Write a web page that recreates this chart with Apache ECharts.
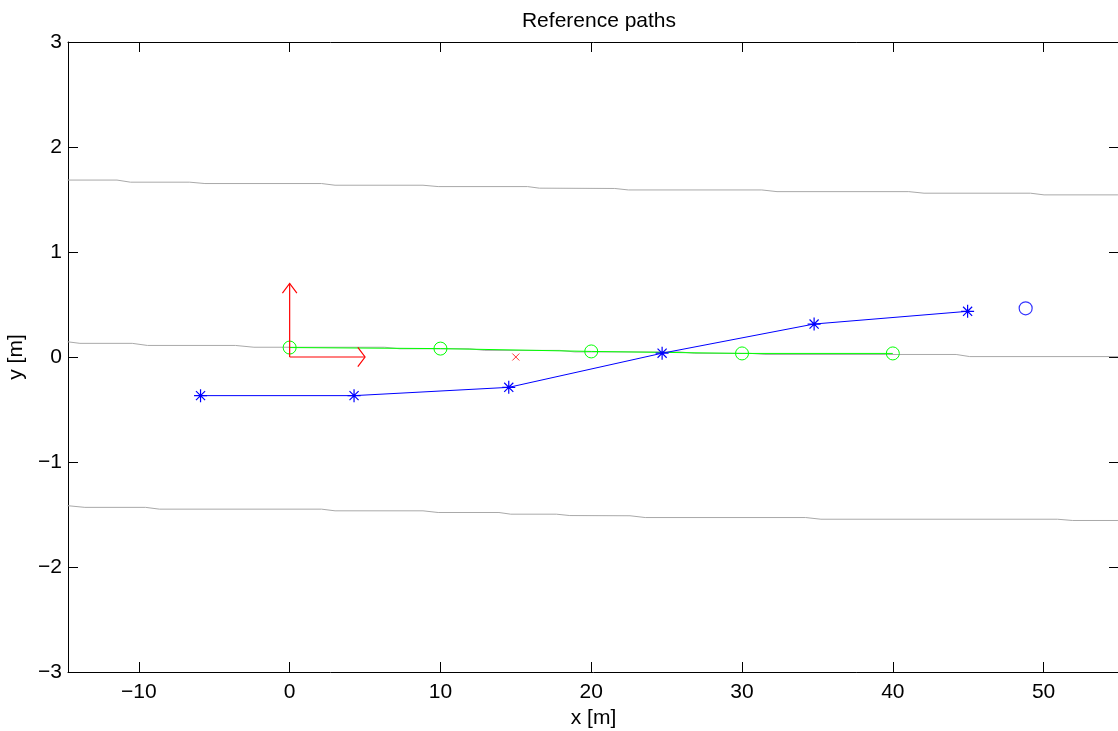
<!DOCTYPE html>
<html>
<head>
<meta charset="utf-8">
<title>Reference paths</title>
<script src="https://cdn.jsdelivr.net/npm/echarts@6/dist/echarts.min.js"></script>
<style>
  html, body { margin: 0; padding: 0; background: #ffffff; }
  #chart { width: 1118px; height: 731px; }
</style>
</head>
<body>
<div id="chart"></div>
<script>
// Tick values on each axis
const xTicks = [-10, 0, 10, 20, 30, 40, 50];
const yTicks = [-3, -2, -1, 0, 1, 2, 3];

// Lane boundary traces [x, y] in metres
const laneLeft = [
  [-14.73, 1.685], [-11.45, 1.685], [-10.56, 1.665], [-6.63, 1.665], [-5.62, 1.652],
  [2.11, 1.652], [3.01, 1.636], [8.84, 1.636], [9.85, 1.623], [15.78, 1.623],
  [16.56, 1.608], [21.56, 1.605], [22.46, 1.591], [31.31, 1.591], [32.32, 1.575],
  [41.06, 1.575], [42.07, 1.560], [49.13, 1.560], [50.03, 1.544], [54.93, 1.544]
];
const laneCenter = [
  [-14.73, 0.145], [-13.91, 0.130], [-10.44, 0.130], [-9.43, 0.110], [-3.60, 0.110],
  [-2.37, 0.093], [6.30, 0.093], [7.30, 0.078], [11.94, 0.078], [12.94, 0.063],
  [17.91, 0.063], [18.91, 0.048], [25.88, 0.048], [26.87, 0.035], [30.52, 0.035],
  [31.52, 0.024], [44.20, 0.024], [45.10, 0.004], [54.93, 0.004]
];
const laneRight = [
  [-14.73, -1.416], [-13.58, -1.432], [-9.55, -1.432], [-8.64, -1.449], [2.11, -1.449],
  [3.01, -1.465], [8.84, -1.465], [9.85, -1.481], [13.88, -1.481], [14.66, -1.497],
  [17.69, -1.497], [18.58, -1.510], [22.57, -1.512], [23.58, -1.529], [34.22, -1.529],
  [35.23, -1.545], [50.92, -1.545], [51.93, -1.557], [54.93, -1.557]
];

// Reference path samples (green circles)
const refPath = [[0, 0.090], [10, 0.080], [20, 0.053], [30, 0.034], [40, 0.034]];
// Vehicle path samples (blue asterisks)
const vehiclePath = [
  [-5.91, -0.368], [4.27, -0.368], [14.53, -0.289],
  [24.70, 0.036], [34.78, 0.314], [44.96, 0.435]
];
// Predicted next point (blue circle)
const nextPoint = [[48.81, 0.464]];
// Look-ahead target (red cross)
const targetPoint = [[15, 0]];
// Local frame axes: [x0, y0, dx, dy]
const frameArrows = [[0, 0, 0, 0.7], [0, 0, 5, 0]];

const FONT = 'Liberation Sans, Arial, Helvetica, sans-serif';
const FONT_SIZE = 21;
const minus = v => String(v).replace('-', '\u2212');
const starPath = 'path://M0,-6L0,6M-6,0L6,0M-4.2,-4.2L4.2,4.2M-4.2,4.2L4.2,-4.2';
const crossPath = 'path://M-3,-3L3,3M-3,3L3,-3';

const chart = echarts.init(document.getElementById('chart'), null, { renderer: 'canvas' });

const baseAxisLine = { show: true, onZero: false, lineStyle: { color: '#000000', width: 1 } };
const tickStyle = { show: true, inside: true, length: 10, lineStyle: { color: '#000000', width: 1 } };

function laneSeries(data) {
  return {
    type: 'line', data: data, showSymbol: false, symbol: 'none',
    lineStyle: { color: '#a9a9a9', width: 1 }, z: 1, animation: false, silent: true
  };
}

// Head size of frame arrows in data units along x and y
const HEAD_X = 0.48, HEAD_Y = 0.092;

chart.setOption({
  animation: false,
  backgroundColor: '#ffffff',
  title: {
    text: 'Reference paths', left: 594, textAlign: 'center', top: 6,
    textStyle: { fontFamily: FONT, fontSize: FONT_SIZE, fontWeight: 'normal', color: '#000000' }
  },
  grid: {
    left: 68, top: 42, width: 1051, height: 630, show: false,
    containLabel: false, outerBoundsMode: 'none'
  },
  xAxis: [
    {
      type: 'value', min: -14.7, max: 55, position: 'bottom',
      name: 'x [m]', nameLocation: 'middle', nameGap: 34,
      nameTextStyle: { fontFamily: FONT, fontSize: FONT_SIZE, color: '#000000' },
      axisLine: baseAxisLine,
      axisTick: Object.assign({ customValues: xTicks }, tickStyle),
      axisLabel: {
        customValues: xTicks, formatter: minus, margin: 10,
        fontFamily: FONT, fontSize: FONT_SIZE, color: '#000000'
      },
      splitLine: { show: false }
    },
    {
      type: 'value', min: -14.7, max: 55, position: 'top',
      axisLine: baseAxisLine,
      axisTick: Object.assign({ customValues: xTicks }, tickStyle),
      axisLabel: { show: false },
      splitLine: { show: false }
    }
  ],
  yAxis: [
    {
      type: 'value', min: -3, max: 3, interval: 1, position: 'left',
      name: 'y [m]', nameLocation: 'middle', nameGap: 36, nameRotate: 90,
      nameTextStyle: { fontFamily: FONT, fontSize: FONT_SIZE, color: '#000000' },
      axisLine: baseAxisLine,
      axisTick: Object.assign({ customValues: yTicks }, tickStyle),
      axisLabel: {
        customValues: yTicks, formatter: minus, margin: 6,
        fontFamily: FONT, fontSize: FONT_SIZE, color: '#000000'
      },
      splitLine: { show: false }
    },
    {
      type: 'value', min: -3, max: 3, interval: 1, position: 'right',
      axisLine: baseAxisLine,
      axisTick: Object.assign({ customValues: yTicks }, tickStyle),
      axisLabel: { show: false },
      splitLine: { show: false }
    }
  ],
  series: [
    laneSeries(laneLeft),
    laneSeries(laneCenter),
    laneSeries(laneRight),
    {
      type: 'line', data: refPath, symbol: 'circle', symbolSize: 13, z: 3,
      lineStyle: { color: '#00ff00', width: 1 },
      itemStyle: { color: 'rgba(0,0,0,0)', borderColor: '#00ff00', borderWidth: 1 }
    },
    {
      type: 'line', data: vehiclePath, symbol: starPath, symbolSize: 13, z: 4,
      lineStyle: { color: '#0000ff', width: 1 },
      itemStyle: { color: '#0000ff', borderColor: '#0000ff', borderWidth: 1.2 }
    },
    {
      type: 'scatter', data: nextPoint, symbol: 'circle', symbolSize: 13, z: 4,
      itemStyle: { color: 'rgba(0,0,0,0)', borderColor: '#0000ff', borderWidth: 1.2 }
    },
    {
      type: 'scatter', data: targetPoint, symbol: crossPath, symbolSize: 7, z: 4,
      itemStyle: { color: '#ff0000', borderColor: '#ff0000', borderWidth: 1 }
    },
    {
      type: 'custom', data: frameArrows, z: 5,
      renderItem: function (params, api) {
        const x0 = api.value(0), y0 = api.value(1), dx = api.value(2), dy = api.value(3);
        const tx = x0 + dx, ty = y0 + dy;
        // direction in a space normalised by the head size
        const nx = dx / HEAD_X, ny = dy / HEAD_Y;
        const len = Math.sqrt(nx * nx + ny * ny);
        const ux = nx / len, uy = ny / len;
        const w1 = [tx - (ux - uy) * HEAD_X, ty - (uy + ux) * HEAD_Y];
        const w2 = [tx - (ux + uy) * HEAD_X, ty - (uy - ux) * HEAD_Y];
        const p0 = api.coord([x0, y0]);
        const pt = api.coord([tx, ty]);
        const style = { stroke: '#ff0000', lineWidth: 1.2, fill: null };
        return {
          type: 'group',
          children: [
            { type: 'polyline', shape: { points: [p0, pt] }, style: style },
            { type: 'polyline', shape: { points: [api.coord(w1), pt, api.coord(w2)] }, style: style }
          ]
        };
      }
    }
  ]
});
</script>
</body>
</html>
